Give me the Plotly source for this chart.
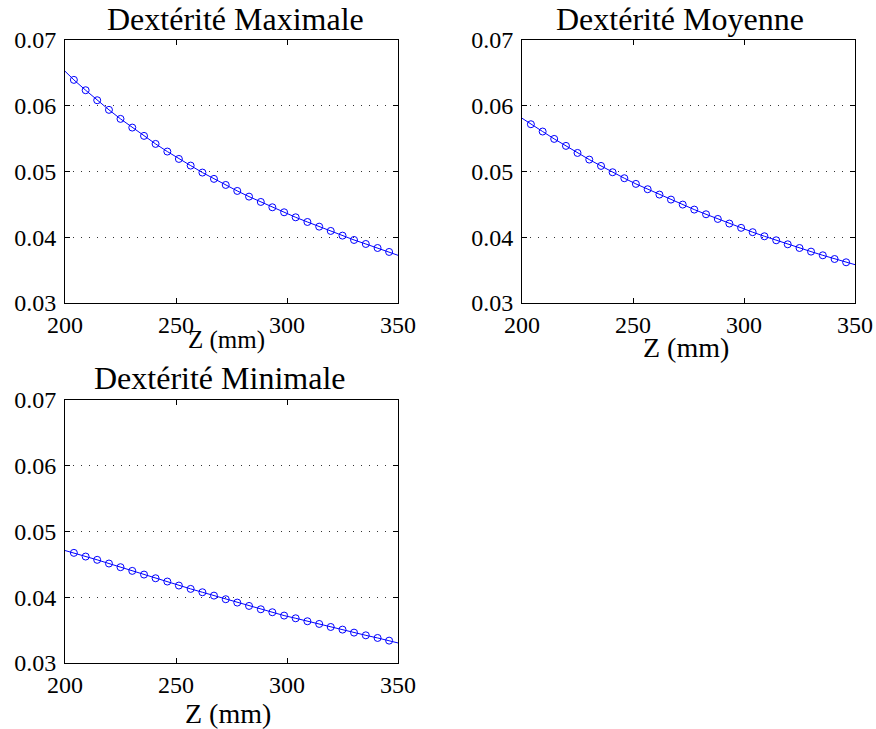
import plotly.graph_objects as go

# ---- data ----
z_markers = [204.0, 209.3, 214.5, 219.8, 225.0, 230.3, 235.6, 240.8, 246.1, 251.3,
             256.6, 261.9, 267.1, 272.4, 277.6, 282.9, 288.2, 293.4, 298.7, 303.9,
             309.2, 314.5, 319.7, 325.0, 330.2, 335.5, 340.8, 346.0]
z_ends = [200, 350]

dex_max = [0.06387, 0.06230, 0.06078, 0.05932, 0.05795, 0.05663, 0.05537, 0.05415,
           0.05299, 0.05187, 0.05086, 0.04980, 0.04884, 0.04792, 0.04701, 0.04615,
           0.04534, 0.04453, 0.04377, 0.04301, 0.04230, 0.04159, 0.04094, 0.04023,
           0.03957, 0.03896, 0.03835, 0.03775]
dex_max_ends = [0.06519, 0.03724]

dex_moy = [0.05714, 0.05603, 0.05491, 0.05385, 0.05278, 0.05177, 0.05081, 0.04985,
           0.04894, 0.04808, 0.04727, 0.04646, 0.04570, 0.04494, 0.04418, 0.04347,
           0.04276, 0.04206, 0.04141, 0.04075, 0.04013, 0.03952, 0.03891, 0.03835,
           0.03780, 0.03724, 0.03668, 0.03618]
dex_moy_ends = [0.05805, 0.03582]

dex_min = [0.04675, 0.04619, 0.04569, 0.04513, 0.04457, 0.04401, 0.04345, 0.04289,
           0.04239, 0.04178, 0.04127, 0.04076, 0.04025, 0.03970, 0.03919, 0.03868,
           0.03817, 0.03772, 0.03721, 0.03680, 0.03635, 0.03594, 0.03548, 0.03508,
           0.03462, 0.03421, 0.03381, 0.03340]
dex_min_ends = [0.04711, 0.03305]

titles = ["Dextérité Maximale", "Dextérité Moyenne", "Dextérité Minimale"]
xlabel = "Z (mm)"
x_ticks = [200, 250, 300, 350]
y_ticks = [0.03, 0.04, 0.05, 0.06, 0.07]
y_ticktext = ["0.03", "0.04", "0.05", "0.06", "0.07"]

W, H = 876, 729
FONT = "Liberation Serif"
BLUE = "#0000FF"

fig = go.Figure()

series = [(dex_max, dex_max_ends), (dex_moy, dex_moy_ends), (dex_min, dex_min_ends)]
for i, (ys, ends) in enumerate(series):
    sfx = "" if i == 0 else str(i + 1)
    xs_line = [z_ends[0]] + z_markers + [z_ends[1]]
    ys_line = [ends[0]] + ys + [ends[1]]
    fig.add_trace(go.Scatter(x=xs_line, y=ys_line, mode="lines",
                             line=dict(color=BLUE, width=1),
                             xaxis="x" + sfx, yaxis="y" + sfx, showlegend=False))
    fig.add_trace(go.Scatter(x=z_markers, y=ys, mode="markers",
                             marker=dict(symbol="circle-open", size=7, color=BLUE,
                                         line=dict(width=1, color=BLUE)),
                             xaxis="x" + sfx, yaxis="y" + sfx, showlegend=False))

# axes placement in pixels
boxes = [(65, 398, 39.5, 303), (522, 855, 39.5, 303), (65, 398, 400, 663)]


def px_dom_x(a, b):
    return [a / W, b / W]


def px_dom_y(top, bot):
    return [1 - bot / H, 1 - top / H]


layout = dict(
    template="none",
    width=W, height=H,
    margin=dict(l=0, r=0, t=0, b=0, pad=0),
    paper_bgcolor="white", plot_bgcolor="white",
    font=dict(family=FONT, color="black", size=24),
    showlegend=False,
)
for i, (x0, x1, yt, yb) in enumerate(boxes):
    sfx = "" if i == 0 else str(i + 1)
    layout["xaxis" + sfx] = dict(
        domain=px_dom_x(x0, x1), anchor="y" + sfx, range=[200, 350],
        tickvals=x_ticks, ticks="inside", ticklen=5, tickcolor="black",
        showline=True, linecolor="black", linewidth=1, mirror="ticks",
        showgrid=False, zeroline=False, automargin=False,
        tickfont=dict(family=FONT, size=24, color="black"),
    )
    layout["yaxis" + sfx] = dict(
        domain=px_dom_y(yt, yb), anchor="x" + sfx, range=[0.03, 0.07],
        tickvals=y_ticks, ticktext=y_ticktext, ticks="inside", ticklen=5,
        tickcolor="black", ticklabelstandoff=3,
        showline=True, linecolor="black", linewidth=1, mirror="ticks",
        showgrid=True, gridcolor="#333333", griddash="1px,7px", gridwidth=1,
        zeroline=False, automargin=False,
        tickfont=dict(family=FONT, size=24, color="black"),
    )

fig.update_layout(**layout)

# titles and x labels as annotations (pixel positions converted to paper)
title_pos = [(235, 19), (680, 19), (219, 378)]
for t, (cx, cy) in zip(titles, title_pos):
    fig.add_annotation(text=t, x=cx / W, y=1 - cy / H, xref="paper", yref="paper",
                       xanchor="center", yanchor="middle", showarrow=False,
                       font=dict(family=FONT, size=32, color="black"))

label_pos = [(226, 340, 25), (686, 347, 28), (228, 713, 28)]
for cx, cy, sz in label_pos:
    fig.add_annotation(text=xlabel, x=cx / W, y=1 - cy / H, xref="paper", yref="paper",
                       xanchor="center", yanchor="middle", showarrow=False,
                       font=dict(family=FONT, size=sz, color="black"))

fig.write_html(
    "out.html",
    config={"displayModeBar": False},
    post_script="document.body.style.margin='0';document.body.style.overflow='hidden';",
)
